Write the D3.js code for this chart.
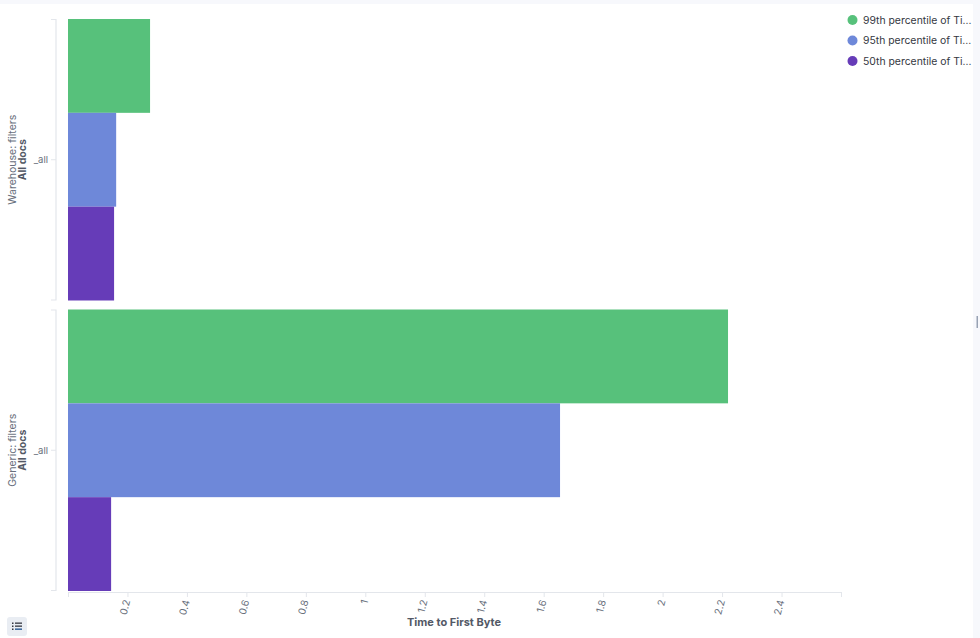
<!DOCTYPE html>
<html>
<head>
<meta charset="utf-8">
<script src="https://cdn.jsdelivr.net/npm/d3@7"></script>
<style>
  html, body { margin: 0; padding: 0; background: #f7f8fc; }
  svg { display: block; font-family: Inter, "Open Sans", sans-serif; }
</style>
</head>
<body>
<svg id="chart" width="980" height="638"></svg>
<script>
const panels = ["Warehouse", "Generic"];
const panelTitles = ["Warehouse: filters", "Generic: filters"];
const panelSubtitles = ["All docs", "All docs"];
const categories = ["_all"];
const seriesNames = ["99th percentile of Ti...", "95th percentile of Ti...", "50th percentile of Ti..."];
const seriesColors = ["#57c17b", "#6e88d9", "#663cb8"];
const warehouseValues = [0.276, 0.162, 0.155];
const genericValues = [2.22, 1.655, 0.145];
const tickValues = [0.2, 0.4, 0.6, 0.8, 1, 1.2, 1.4, 1.6, 1.8, 2, 2.2, 2.4];
const axisTitle = "Time to First Byte";

const values = [warehouseValues, genericValues];
const svg = d3.select("#chart");

// panel background
svg.append("rect").attr("x", 0).attr("y", 4).attr("width", 973).attr("height", 634).attr("fill", "#fff");

const x = d3.scaleLinear().domain([0, 2.6]).range([68, 841]);
const yPanel = d3.scaleBand().domain(panels).range([19, 591]).paddingInner(0.031);
const ySeries = d3.scaleBand().domain(d3.range(seriesNames.length)).range([0, yPanel.bandwidth()]);

panels.forEach((p, i) => {
  const top = yPanel(p);
  const h = yPanel.bandwidth();
  const g = svg.append("g");
  g.selectAll("rect.bar").data(values[i]).enter().append("rect")
    .attr("class", "bar")
    .attr("x", x(0))
    .attr("y", (d, j) => top + ySeries(j))
    .attr("width", d => x(d) - x(0))
    .attr("height", ySeries.bandwidth())
    .attr("fill", (d, j) => seriesColors[j]);

  // bracket axis
  const bx = 56;
  const path = d3.path();
  path.moveTo(bx - 5, top + 0.5); path.lineTo(bx, top + 0.5); path.lineTo(bx, top + h - 0.5); path.lineTo(bx - 5, top + h - 0.5);
  g.append("path").attr("d", path.toString()).attr("fill", "none").attr("stroke", "#e3e6eb").attr("stroke-width", 1.2);
  const cy = top + h / 2;
  g.append("line").attr("x1", bx - 5).attr("x2", bx).attr("y1", cy).attr("y2", cy).attr("stroke", "#e3e6eb");
  g.append("text").attr("x", bx - 8).attr("y", cy).attr("dy", "0.35em").attr("text-anchor", "end")
    .attr("font-size", 9.5).attr("fill", "#69707d").text(categories[0]);

  g.append("text").attr("transform", `translate(16,${cy}) rotate(-90)`).attr("text-anchor", "middle")
    .attr("font-size", 10.5).attr("fill", "#69707d").text(panelTitles[i]);
  g.append("text").attr("transform", `translate(26,${cy}) rotate(-90)`).attr("text-anchor", "middle")
    .attr("font-size", 10.5).attr("font-weight", "bold").attr("fill", "#535966").text(panelSubtitles[i]);
});

// x axis
const axisY = 592;
const axis = d3.axisBottom(x).tickValues([0, ...tickValues, 2.6]).tickSize(5).tickFormat(d => (d === 0 || d === 2.6) ? "" : d3.format("~g")(d));
const ag = svg.append("g").attr("transform", `translate(0,${axisY})`).call(axis);
ag.select(".domain").attr("stroke", "#e3e6eb").attr("d", `M${x(0)},0.5H${x(2.6)}`);
ag.selectAll(".tick line").attr("stroke", "#e3e6eb");
ag.selectAll(".tick text")
  .attr("font-family", "Inter, sans-serif").attr("font-size", 10).attr("fill", "#69707d")
  .attr("text-anchor", "end").attr("x", 0).attr("y", 0).attr("dy", "0.35em")
  .attr("transform", "translate(-1,8) rotate(-75)");

svg.append("text").attr("x", 454).attr("y", 626).attr("text-anchor", "middle")
  .attr("font-size", 11).attr("font-weight", "bold").attr("fill", "#535966").text(axisTitle);

// legend
const lg = svg.append("g");
seriesNames.forEach((n, i) => {
  const ly = 20 + i * 20.5;
  lg.append("circle").attr("cx", 852.5).attr("cy", ly).attr("r", 5).attr("fill", seriesColors[i]);
  lg.append("text").attr("x", 863).attr("y", ly).attr("dy", "0.35em").attr("font-size", 10.4).attr("fill", "#343741").text(n);
});

// resize handle
svg.append("rect").attr("x", 976.5).attr("y", 316).attr("width", 1.5).attr("height", 12).attr("fill", "#98a2b3");

// legend toggle button
const bg = svg.append("g").attr("transform", "translate(7,617)");
bg.append("rect").attr("width", 20).attr("height", 19).attr("rx", 3).attr("fill", "#e9edf3");
[0, 1, 2].forEach(k => {
  bg.append("rect").attr("x", 5).attr("y", 5.5 + k * 3).attr("width", 1.5).attr("height", 1.5).attr("fill", "#343741");
  bg.append("rect").attr("x", 8).attr("y", 5.5 + k * 3).attr("width", 7).attr("height", 1.3).attr("fill", k === 2 ? "#1a4e8c" : "#343741");
});
</script>
</body>
</html>
